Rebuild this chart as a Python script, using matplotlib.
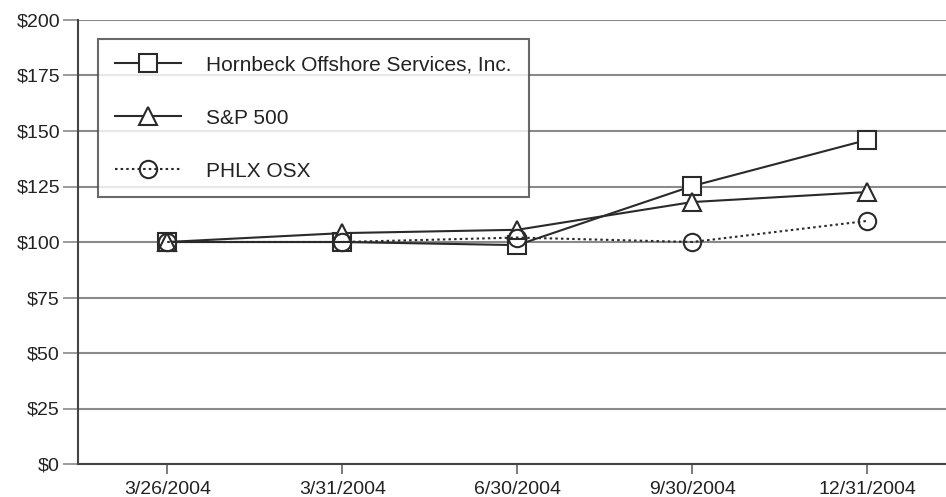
import matplotlib.pyplot as plt

dates = ["3/26/2004", "3/31/2004", "6/30/2004", "9/30/2004", "12/31/2004"]
hornbeck = [100, 100, 98.6, 125.2, 146.0]
sp500 = [100, 104, 105.5, 118, 122.5]
phlx = [100, 100, 102, 100, 109.5]
y_ticks = [0, 25, 50, 75, 100, 125, 150, 175, 200]

plt.rcParams['font.family'] = ['Liberation Sans', 'DejaVu Sans']

fig = plt.figure(figsize=(9.46, 4.97), dpi=100)
ax = fig.add_axes([78 / 946, 1 - 464 / 497, 868 / 946, 444 / 497])

x = list(range(len(dates)))
ink = "#2a2a2a"
ax.plot(x, hornbeck, color=ink, lw=1.5, marker="s", ms=12.5, mfc="white",
        mec=ink, mew=1.5, label="Hornbeck Offshore Services, Inc.", zorder=3)
ax.plot(x, sp500, color=ink, lw=1.5, marker="^", ms=12.5, mfc="white",
        mec=ink, mew=1.5, label="S&P 500", zorder=4)
ax.plot(x, phlx, color=ink, lw=1.5, ls=(0, (1.2, 1.5)), marker="o", ms=12.5,
        mfc="none", mec=ink, mew=1.5, label="PHLX OSX", zorder=5)

ax.set_xlim(-0.51, 4.45)
ax.set_ylim(0, 200)
ax.set_yticks(y_ticks)
ax.set_yticklabels([f"${v}" for v in y_ticks])
ax.set_xticks(x)
ax.set_xticklabels(dates)
ax.yaxis.grid(True, color="#8a8a8a", lw=1.5)
ax.set_axisbelow(True)

for side in ("top", "right"):
    ax.spines[side].set_visible(False)
ax.spines["left"].set_color("#444444")
ax.spines["bottom"].set_color("#444444")
ax.spines["left"].set_linewidth(1.5)
ax.spines["bottom"].set_linewidth(1.5)
ax.tick_params(axis="y", length=11, width=1.2, color="#8a8a8a", labelsize=14,
               pad=2, labelcolor="#222222")
ax.tick_params(axis="x", length=7.5, width=1.2, color="#666666", labelsize=14,
               pad=5, labelcolor="#222222")

leg = ax.legend(loc="upper left", bbox_to_anchor=(20 / 868, 1 - 19 / 444),
                frameon=True, fancybox=False, edgecolor="#444444",
                fontsize=15, handlelength=3.2, handletextpad=1.2,
                labelspacing=1.63, borderpad=0.8, borderaxespad=0)
leg.get_frame().set_linewidth(1.5)
for t in leg.get_texts():
    t.set_color("#222222")

fig.savefig("out.png", dpi=100)
